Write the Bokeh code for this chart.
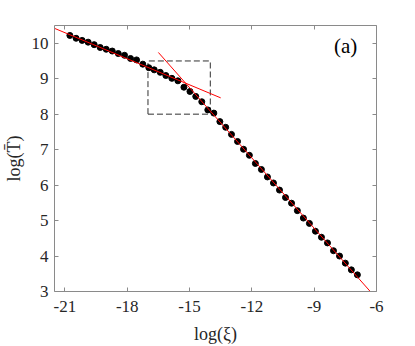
from bokeh.plotting import figure
from bokeh.models import (LinearAxis, FixedTicker, Range1d, Label,
                          CustomJSTickFormatter)
from bokeh.embed import file_html
from bokeh.resources import INLINE

# ---- data ----
log_xi = [-20.76, -20.46, -20.17, -19.88, -19.59, -19.30, -19.01, -18.72,
          -18.43, -18.13, -17.84, -17.55, -17.25, -16.96, -16.70, -16.41,
          -16.14, -15.85, -15.56, -15.27, -14.98, -14.70, -14.41, -14.12,
          -13.83, -13.54, -13.26, -12.98, -12.69, -12.40, -12.12, -11.83,
          -11.54, -11.25, -10.96, -10.67, -10.38, -10.09, -9.81, -9.52,
          -9.23, -8.94, -8.65, -8.36, -8.07, -7.78, -7.50, -7.21, -6.92]
log_T = [10.22, 10.14, 10.08, 10.03, 9.96, 9.88, 9.83, 9.78,
         9.71, 9.66, 9.57, 9.53, 9.41, 9.31, 9.25, 9.18,
         9.09, 9.01, 8.94, 8.76, 8.64, 8.50, 8.35, 8.12,
         8.03, 7.79, 7.63, 7.43, 7.23, 7.01, 6.84, 6.61,
         6.44, 6.23, 6.06, 5.86, 5.65, 5.49, 5.28, 5.07,
         4.92, 4.70, 4.53, 4.37, 4.15, 4.00, 3.80, 3.61, 3.47]

fit_upper_x = [-21.5, -13.5]
fit_upper_y = [10.42, 8.46]
fit_lower_x = [-16.5, -6.3]
fit_lower_y = [9.74, 3.0]

box_x = [-17, -14, -14, -17, -17]
box_y = [8, 8, 9.5, 9.5, 8]

x_ticks = [-21, -18, -15, -12, -9, -6]
y_ticks = [3, 4, 5, 6, 7, 8, 9, 10]
x_range = (-21.5, -6)
y_range = (3, 10.5)
panel_label = "(a)"

FONT = "Times New Roman"
AXIS_COLOR = "#8a8a8a"
TEXT_COLOR = "#262626"

p = figure(frame_width=322, frame_height=266,
           x_range=Range1d(*x_range), y_range=Range1d(*y_range),
           output_backend="svg", toolbar_location=None,
           min_border_left=54, min_border_right=30,
           min_border_top=25, min_border_bottom=52)
p.grid.visible = False
p.outline_line_color = None
p.background_fill_color = "white"
p.border_fill_color = "white"

hyphen_fmt = "return tick.toString()"


def style_axis(ax, ticks, labels=True):
    ax.ticker = FixedTicker(ticks=ticks)
    ax.axis_line_color = AXIS_COLOR
    ax.axis_line_width = 1
    ax.major_tick_line_color = AXIS_COLOR
    ax.major_tick_in = 4
    ax.major_tick_out = 0
    ax.minor_tick_line_color = None
    ax.major_label_text_font = FONT
    ax.major_label_text_font_size = "17px"
    ax.major_label_text_color = TEXT_COLOR
    ax.axis_label_text_font = FONT
    ax.axis_label_text_font_size = "18px"
    ax.axis_label_text_font_style = "normal"
    ax.axis_label_text_color = TEXT_COLOR
    if labels:
        ax.formatter = CustomJSTickFormatter(code=hyphen_fmt)
    else:
        ax.formatter = CustomJSTickFormatter(code="return ''")
        ax.major_label_text_font_size = "0px"
        ax.major_label_standoff = 0


style_axis(p.xaxis[0], x_ticks)
style_axis(p.yaxis[0], y_ticks)
p.xaxis[0].axis_label = "log(ξ)"
p.yaxis[0].axis_label = "log(T\u0304)"
p.xaxis[0].major_label_standoff = 9
p.yaxis[0].major_label_standoff = 6
p.xaxis[0].axis_label_standoff = 9
p.yaxis[0].axis_label_standoff = 5

top = LinearAxis()
right = LinearAxis()
style_axis(top, x_ticks, labels=False)
style_axis(right, y_ticks, labels=False)
p.add_layout(top, "above")
p.add_layout(right, "right")

# dashed zoom box
p.line(box_x, box_y, line_color="#303030", line_width=1, line_dash="6 3")

# data points
p.scatter(log_xi, log_T, size=6, color="black")

# fitted lines
p.line(fit_upper_x, fit_upper_y, line_color="red", line_width=1)
p.line(fit_lower_x, fit_lower_y, line_color="red", line_width=1)

p.add_layout(Label(x=-8.05, y=9.92, text=panel_label, text_font=FONT,
                   text_font_size="21px", text_color="black",
                   text_baseline="middle", text_align="left"))

open("out.html", "w").write(file_html(p, INLINE))
